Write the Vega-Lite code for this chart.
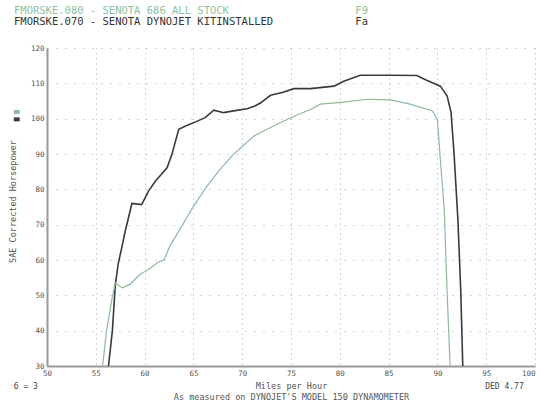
{
  "$schema": "https://vega.github.io/schema/vega-lite/v6.json",
  "autosize": {"type": "none"},
  "padding": {"left": 47, "top": 48, "right": 5, "bottom": 39},
  "width": 488,
  "height": 318,
  "background": "white",
  "title": {
    "text": "FMORSKE.080 - SENOTA 686 ALL STOCK\u00a0\u00a0\u00a0\u00a0\u00a0\u00a0\u00a0\u00a0\u00a0\u00a0\u00a0\u00a0\u00a0\u00a0\u00a0\u00a0\u00a0\u00a0\u00a0\u00a0F9",
    "subtitle": "FMORSKE.070 - SENOTA DYNOJET KITINSTALLED\u00a0\u00a0\u00a0\u00a0\u00a0\u00a0\u00a0\u00a0\u00a0\u00a0\u00a0\u00a0\u00a0Fa",
    "anchor": "start",
    "frame": "group",
    "dx": -33,
    "offset": 17,
    "font": "DejaVu Sans Mono",
    "fontSize": 10.5,
    "fontWeight": "normal",
    "color": "#8fbf98",
    "subtitleFont": "DejaVu Sans Mono",
    "subtitleFontSize": 10.5,
    "subtitleColor": "#333333",
    "subtitlePadding": 0
  },
  "datasets": {
    "runs": [
      {"run": "FMORSKE.070", "mph": 56.3, "hp": 30},
      {"run": "FMORSKE.070", "mph": 56.7, "hp": 40},
      {"run": "FMORSKE.070", "mph": 57.0, "hp": 53},
      {"run": "FMORSKE.070", "mph": 57.3, "hp": 59},
      {"run": "FMORSKE.070", "mph": 57.7, "hp": 64},
      {"run": "FMORSKE.070", "mph": 58.0, "hp": 68},
      {"run": "FMORSKE.070", "mph": 58.7, "hp": 76},
      {"run": "FMORSKE.070", "mph": 59.7, "hp": 75.7},
      {"run": "FMORSKE.070", "mph": 60.4, "hp": 79.5},
      {"run": "FMORSKE.070", "mph": 61.1, "hp": 82.3},
      {"run": "FMORSKE.070", "mph": 62.3, "hp": 86.1},
      {"run": "FMORSKE.070", "mph": 62.8, "hp": 89.9},
      {"run": "FMORSKE.070", "mph": 63.5, "hp": 97},
      {"run": "FMORSKE.070", "mph": 64.2, "hp": 97.9},
      {"run": "FMORSKE.070", "mph": 65.4, "hp": 99.3},
      {"run": "FMORSKE.070", "mph": 66.2, "hp": 100.3},
      {"run": "FMORSKE.070", "mph": 67.1, "hp": 102.4},
      {"run": "FMORSKE.070", "mph": 68.1, "hp": 101.7},
      {"run": "FMORSKE.070", "mph": 69.1, "hp": 102.2},
      {"run": "FMORSKE.070", "mph": 70.5, "hp": 102.8},
      {"run": "FMORSKE.070", "mph": 71.3, "hp": 103.6},
      {"run": "FMORSKE.070", "mph": 71.9, "hp": 104.5},
      {"run": "FMORSKE.070", "mph": 72.9, "hp": 106.6},
      {"run": "FMORSKE.070", "mph": 74.1, "hp": 107.4},
      {"run": "FMORSKE.070", "mph": 75.3, "hp": 108.5},
      {"run": "FMORSKE.070", "mph": 77.0, "hp": 108.5},
      {"run": "FMORSKE.070", "mph": 79.4, "hp": 109.2},
      {"run": "FMORSKE.070", "mph": 80.4, "hp": 110.6},
      {"run": "FMORSKE.070", "mph": 82.1, "hp": 112.3},
      {"run": "FMORSKE.070", "mph": 85.2, "hp": 112.3},
      {"run": "FMORSKE.070", "mph": 87.9, "hp": 112.2},
      {"run": "FMORSKE.070", "mph": 88.9, "hp": 110.9},
      {"run": "FMORSKE.070", "mph": 90.3, "hp": 109.2},
      {"run": "FMORSKE.070", "mph": 91.0, "hp": 106.4},
      {"run": "FMORSKE.070", "mph": 91.4, "hp": 101.7},
      {"run": "FMORSKE.070", "mph": 91.7, "hp": 90.4},
      {"run": "FMORSKE.070", "mph": 92.1, "hp": 71.5},
      {"run": "FMORSKE.070", "mph": 92.4, "hp": 50.7},
      {"run": "FMORSKE.070", "mph": 92.6, "hp": 30},
      {"run": "FMORSKE.080", "mph": 55.7, "hp": 30},
      {"run": "FMORSKE.080", "mph": 56.1, "hp": 40},
      {"run": "FMORSKE.080", "mph": 56.7, "hp": 49.7},
      {"run": "FMORSKE.080", "mph": 57.0, "hp": 53.5},
      {"run": "FMORSKE.080", "mph": 57.7, "hp": 52.1},
      {"run": "FMORSKE.080", "mph": 58.5, "hp": 53.1},
      {"run": "FMORSKE.080", "mph": 59.5, "hp": 55.9},
      {"run": "FMORSKE.080", "mph": 60.4, "hp": 57.3},
      {"run": "FMORSKE.080", "mph": 61.3, "hp": 59.2},
      {"run": "FMORSKE.080", "mph": 62.0, "hp": 60.1},
      {"run": "FMORSKE.080", "mph": 62.6, "hp": 64},
      {"run": "FMORSKE.080", "mph": 63.6, "hp": 68.6},
      {"run": "FMORSKE.080", "mph": 65.0, "hp": 75.2},
      {"run": "FMORSKE.080", "mph": 66.4, "hp": 80.9},
      {"run": "FMORSKE.080", "mph": 67.7, "hp": 85.6},
      {"run": "FMORSKE.080", "mph": 69.1, "hp": 89.9},
      {"run": "FMORSKE.080", "mph": 71.2, "hp": 95.1},
      {"run": "FMORSKE.080", "mph": 73.2, "hp": 97.9},
      {"run": "FMORSKE.080", "mph": 75.3, "hp": 100.7},
      {"run": "FMORSKE.080", "mph": 77.0, "hp": 102.6},
      {"run": "FMORSKE.080", "mph": 78.0, "hp": 104.1},
      {"run": "FMORSKE.080", "mph": 80.4, "hp": 104.7},
      {"run": "FMORSKE.080", "mph": 82.8, "hp": 105.5},
      {"run": "FMORSKE.080", "mph": 85.2, "hp": 105.3},
      {"run": "FMORSKE.080", "mph": 87.2, "hp": 104.1},
      {"run": "FMORSKE.080", "mph": 89.5, "hp": 102.2},
      {"run": "FMORSKE.080", "mph": 90.0, "hp": 99.8},
      {"run": "FMORSKE.080", "mph": 90.3, "hp": 88.5},
      {"run": "FMORSKE.080", "mph": 90.7, "hp": 74.3},
      {"run": "FMORSKE.080", "mph": 91.0, "hp": 50.7},
      {"run": "FMORSKE.080", "mph": 91.3, "hp": 30}
    ],
    "keys": [
      {"run": "FMORSKE.080", "mph": 46.6, "mph2": 47.2, "hp": 101.9},
      {"run": "FMORSKE.070", "mph": 46.6, "mph2": 47.2, "hp": 99.8}
    ],
    "notes": [
      {"note": "6 = 3", "mph": 46.6, "hp": 24.1},
      {"note": "DED 4.77", "mph": 94.9, "hp": 24.1}
    ]
  },
  "config": {
    "view": {"stroke": null},
    "font": "DejaVu Sans Mono",
    "axis": {
      "labelFont": "DejaVu Sans Mono",
      "titleFont": "DejaVu Sans Mono",
      "labelFontSize": 7.5,
      "labelColor": "#555555",
      "titleColor": "#555555",
      "titleFontWeight": "normal",
      "titleFontSize": 8.5,
      "domainColor": "#999999",
      "domainWidth": 2,
      "ticks": false,
      "labelPadding": 3,
      "gridColor": "#aaaaaa",
      "gridWidth": 1
    }
  },
  "encoding": {
    "x": {
      "field": "mph", "type": "quantitative",
      "scale": {"domain": [50, 100], "nice": false, "zero": false},
      "axis": {
        "values": [50, 55, 60, 65, 70, 75, 80, 85, 90, 95, 100],
        "title": ["Miles per Hour", "As measured on DYNOJET'S MODEL 150 DYNAMOMETER"],
        "titlePadding": 5,
        "titleLineHeight": 11,
        "gridDash": [1, 4],
        "labelFlush": false,
        "labelOverlap": false,
        "labelAlign": {"condition": {"test": "datum.value == 100", "value": "right"}, "value": "center"}
      }
    },
    "y": {
      "field": "hp", "type": "quantitative",
      "scale": {"domain": [30, 120], "nice": false, "zero": false},
      "axis": {
        "values": [30, 40, 50, 60, 70, 80, 90, 100, 110, 120],
        "tickCount": 10,
        "labelOverlap": false,
        "title": "SAE Corrected Horsepower",
        "titleX": -35,
        "titleY": 153,
        "titleAngle": -90,
        "titleAlign": "center",
        "titleBaseline": "middle",
        "gridDash": [1, 8],
        "labelFlush": false
      }
    }
  },
  "layer": [
    {
      "data": {"name": "runs"},
      "mark": {"type": "line", "interpolate": "linear"},
      "encoding": {
        "color": {
          "field": "run", "type": "nominal",
          "scale": {"domain": ["FMORSKE.080", "FMORSKE.070"], "range": ["#8dbb97", "#3a3a3a"]},
          "legend": null
        },
        "strokeWidth": {
          "field": "run", "type": "nominal",
          "scale": {"domain": ["FMORSKE.080", "FMORSKE.070"], "range": [1.2, 1.6]},
          "legend": null
        }
      }
    },
    {
      "data": {"name": "keys"},
      "mark": {"type": "rule", "strokeWidth": 4, "clip": false},
      "encoding": {
        "x2": {"field": "mph2"},
        "color": {"field": "run", "type": "nominal", "legend": null}
      }
    },
    {
      "data": {"name": "notes"},
      "mark": {"type": "text", "align": "left", "baseline": "middle", "clip": false, "font": "DejaVu Sans Mono", "fontSize": 8, "color": "#444444"},
      "encoding": {
        "text": {"field": "note"}
      }
    }
  ]
}
